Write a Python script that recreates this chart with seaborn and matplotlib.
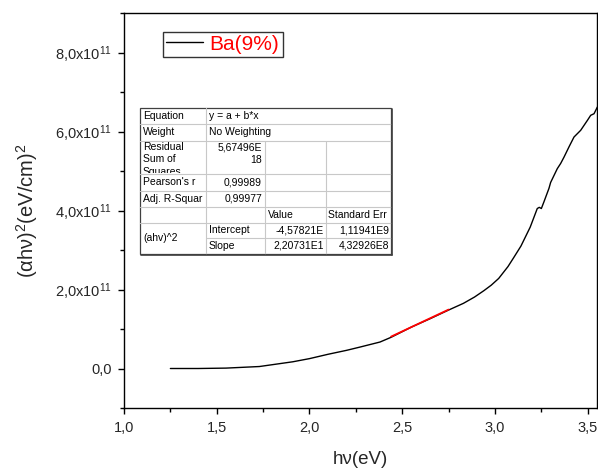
import matplotlib
matplotlib.use("Agg")
import matplotlib.pyplot as plt
import seaborn as sns
import pandas as pd
import numpy as np
from matplotlib.patches import Rectangle
from matplotlib.lines import Line2D
from matplotlib.transforms import Bbox, TransformedBbox
from matplotlib.ticker import MultipleLocator, FixedLocator, FixedFormatter

# Photon energy (eV) and (alpha*h*nu)^2 in units of 1e11 (eV/cm)^2
hv = [1.25, 1.40, 1.55, 1.73, 1.91, 2.00, 2.10, 2.20, 2.27, 2.38, 2.44, 2.55,
      2.65, 2.75, 2.83, 2.89, 2.94, 2.98, 3.02, 3.07, 3.10, 3.14, 3.19, 3.228,
      3.239, 3.250, 3.264, 3.291, 3.300, 3.336, 3.354, 3.372, 3.400, 3.426,
      3.462, 3.498, 3.516, 3.534, 3.552]
ahv2_e11 = [0.00, 0.00, 0.01, 0.05, 0.17, 0.25, 0.36, 0.46, 0.54, 0.67, 0.79,
            1.05, 1.26, 1.48, 1.65, 1.81, 1.97, 2.11, 2.28, 2.58, 2.80, 3.10,
            3.58, 4.05, 4.08, 4.05, 4.22, 4.56, 4.71, 5.06, 5.19, 5.35, 5.62,
            5.86, 6.03, 6.28, 6.41, 6.45, 6.62]
series_label = "Ba(9%)"

# Linear fit of the absorption edge
fit_intercept = -4.57821e11
fit_slope = 2.20731e11
fit_range = [2.44, 2.75]

x_ticks = [1.0, 1.5, 2.0, 2.5, 3.0, 3.5]
x_tick_labels = ["1,0", "1,5", "2,0", "2,5", "3,0", "3,5"]
y_ticks = [0.0, 2e11, 4e11, 6e11, 8e11]
y_tick_labels = ["0,0", "2,0x10$^{11}$", "4,0x10$^{11}$", "6,0x10$^{11}$", "8,0x10$^{11}$"]

# Fit report table
table_rows = [
    ["Equation", "y = a + b*x"],
    ["Weight", "No Weighting"],
    ["Pearson's r", "0,99989"],
    ["Adj. R-Squar", "0,99977"],
]
residual_label = "Residual\nSum of\nSquares"
residual_value = ["5,67496E", "18"]
param_header = ["Value", "Standard Err"]
param_group = "(ahv)^2"
param_names = ["Intercept", "Slope"]
param_values = ["-4,57821E", "2,20731E1"]
param_errors = ["1,11941E9", "4,32926E8"]

sns.set_theme(style="ticks")
plt.rcParams["font.family"] = ["Liberation Sans", "DejaVu Sans"]
plt.rcParams["mathtext.fontset"] = "custom"
plt.rcParams["mathtext.rm"] = "Liberation Sans"
plt.rcParams["mathtext.it"] = "Liberation Sans:italic"
plt.rcParams["mathtext.bf"] = "Liberation Sans:bold"

W, H = 598, 475
fig = plt.figure(figsize=(W / 100, H / 100), dpi=100)
ax = fig.add_axes([124 / W, 1 - 408 / H, (597 - 124) / W, (408 - 13) / H])

df = pd.DataFrame({"hv": hv, "y": np.array(ahv2_e11) * 1e11})
sns.lineplot(data=df, x="hv", y="y", ax=ax, color="black", lw=1.0,
             label=series_label, sort=False)

fit_x = np.array(fit_range)
fit_df = pd.DataFrame({"hv": fit_x, "y": fit_intercept + fit_slope * fit_x})
sns.lineplot(data=fit_df, x="hv", y="y", ax=ax, color="red", lw=1.3, legend=False)

ax.set_xlim(1.0, 3.55)
ax.set_ylim(-1e11, 9e11)
ax.xaxis.set_major_locator(FixedLocator(x_ticks))
ax.xaxis.set_major_formatter(FixedFormatter(x_tick_labels))
ax.xaxis.set_minor_locator(MultipleLocator(0.25))
ax.yaxis.set_major_locator(FixedLocator(y_ticks))
ax.yaxis.set_major_formatter(FixedFormatter(y_tick_labels))
ax.yaxis.set_minor_locator(MultipleLocator(1e11))
ax.tick_params(axis="both", which="major", direction="out", length=4.5,
               width=1, labelsize=10.5, color="black")
ax.tick_params(axis="x", which="major", pad=4.5)
ax.tick_params(axis="y", which="major", pad=4.5)
ax.tick_params(axis="both", which="minor", direction="out", length=2.8,
               width=1, color="black")
for s in ax.spines.values():
    s.set_visible(True)
    s.set_color("black")
    s.set_linewidth(1.0)

ax.set_xlabel("hν(eV)", fontsize=13.5)
ax.set_ylabel("(αhν)$^{2}$(eV/cm)$^{2}$", fontsize=14.5)
ax.xaxis.set_label_coords(0.5, -0.11)
ax.yaxis.set_label_coords(-0.177, 0.5)

leg = ax.legend(loc="upper left", bbox_to_anchor=(0.082, 0.953), frameon=True,
                fancybox=False, edgecolor="black", fontsize=15, borderpad=0.15,
                handlelength=1.8, handletextpad=0.3, borderaxespad=0,
                labelcolor="red")
leg.get_frame().set_linewidth(1.0)
for ln in leg.get_lines():
    ln.set_linewidth(1.0)


# --- fit report table, drawn in figure pixel coordinates (y measured from top)
def fx(px):
    return px / W


def fy(py):
    return 1 - py / H


def hline(x0, x1, y, color="#c8c8c8", lw=0.8):
    fig.add_artist(Line2D([fx(x0), fx(x1)], [fy(y), fy(y)], color=color, lw=lw,
                          transform=fig.transFigure))


def vline(x, y0, y1, color="#c8c8c8", lw=0.8):
    fig.add_artist(Line2D([fx(x), fx(x)], [fy(y0), fy(y1)], color=color, lw=lw,
                          transform=fig.transFigure))


def cell_text(px, py, s, ha="left", va="center", clip=None):
    t = fig.text(fx(px), fy(py), s, ha=ha, va=va, fontsize=7.5, color="black",
                 linespacing=1.3)
    if clip is not None:
        x0, y0, x1, y1 = clip
        bb = Bbox.from_extents(fx(x0), fy(y1), fx(x1), fy(y0))
        t.set_clip_box(TransformedBbox(bb, fig.transFigure))
        t.set_clip_on(True)
    return t


L, R, T, B = 140, 391, 107.5, 254
c1, c2, c3 = 206, 265, 326
rows_y = [T, 124.3, 140.6, 174, 190.6, 207, 222.5, 237.7, B]

fig.add_artist(Rectangle((fx(L), fy(B)), fx(R) - fx(L), fy(T) - fy(B),
                         transform=fig.transFigure, facecolor="white",
                         edgecolor="none", zorder=0))
for y in rows_y[1:-1]:
    x_start = c1 if y == rows_y[7] else L
    hline(x_start, R, y)
vline(c1, T, B)
vline(c2, rows_y[2], B)
vline(c3, rows_y[2], B)
# outer frame with a slight drop shadow
fig.add_artist(Rectangle((fx(L), fy(B)), fx(R) - fx(L), fy(T) - fy(B),
                         transform=fig.transFigure, facecolor="none",
                         edgecolor="#404040", lw=0.9))
hline(L + 1, R + 1, B + 1, color="#404040", lw=1.2)
vline(R + 1, T + 1, B + 1, color="#404040", lw=1.2)

pad = 3
mid = lambda a, b: (a + b) / 2
cell_text(L + pad, mid(rows_y[0], rows_y[1]), table_rows[0][0])
cell_text(c1 + pad, mid(rows_y[0], rows_y[1]), table_rows[0][1])
cell_text(L + pad, mid(rows_y[1], rows_y[2]), table_rows[1][0])
cell_text(c1 + pad, mid(rows_y[1], rows_y[2]), table_rows[1][1])
cell_text(L + pad, rows_y[2] + 1.5, residual_label, va="top",
          clip=(L, rows_y[2], c1, rows_y[3] - 1))
cell_text(c2 - pad, rows_y[2] + 1.5, residual_value[0], ha="right", va="top")
cell_text(c2 - pad, rows_y[2] + 14, residual_value[1], ha="right", va="top")
cell_text(L + pad, mid(rows_y[3], rows_y[4]), table_rows[2][0])
cell_text(c2 - pad, mid(rows_y[3], rows_y[4]), table_rows[2][1], ha="right")
cell_text(L + pad, mid(rows_y[4], rows_y[5]), table_rows[3][0])
cell_text(c2 - pad, mid(rows_y[4], rows_y[5]), table_rows[3][1], ha="right")
cell_text(c2 + pad, mid(rows_y[5], rows_y[6]), param_header[0])
cell_text(c3 + 2, mid(rows_y[5], rows_y[6]), param_header[1],
          clip=(c3, rows_y[5], R, rows_y[6]))
cell_text(L + pad, mid(rows_y[6], rows_y[8]), param_group)
for i in range(2):
    yc = mid(rows_y[6 + i], rows_y[7 + i])
    cell_text(c1 + pad, yc, param_names[i])
    cell_text(c3 - 2, yc, param_values[i], ha="right",
              clip=(c2, rows_y[6 + i], c3, rows_y[7 + i]))
    cell_text(R - 2, yc, param_errors[i], ha="right")

fig.savefig("out.png", dpi=100)
